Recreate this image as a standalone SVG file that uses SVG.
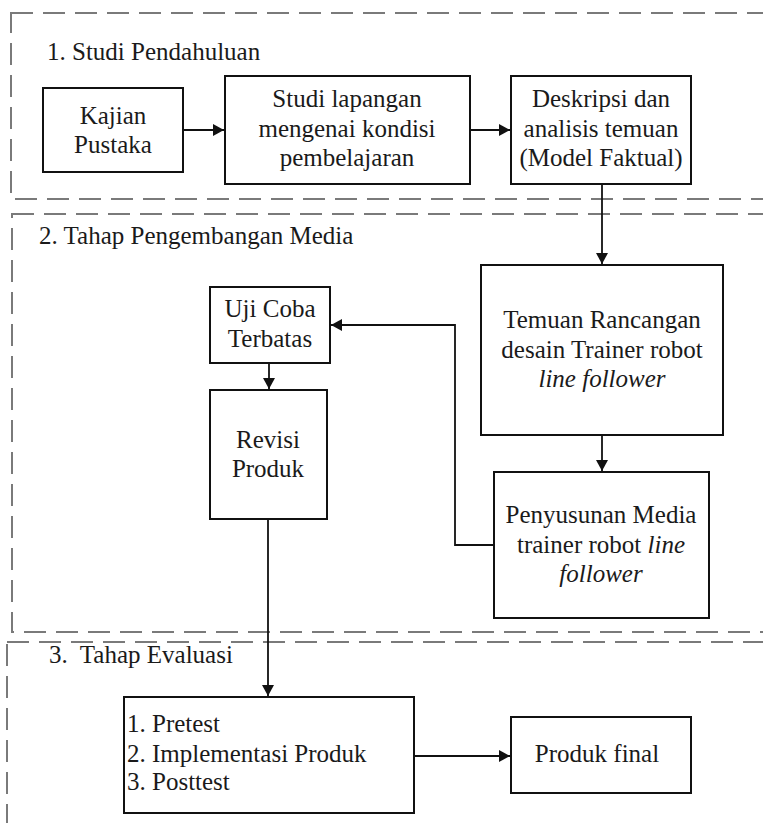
<svg xmlns="http://www.w3.org/2000/svg" width="763" height="823" viewBox="0 0 763 823">
<style>
.sec{fill:none;stroke:#7a7a7a;stroke-width:2;stroke-dasharray:22 10}
.box{fill:#fff;stroke:#111;stroke-width:2}
.t{font-family:'Liberation Serif',Tinos,'Times New Roman',Times,'DejaVu Serif',serif;font-size:25px;fill:#1a1a1a}
.c{text-anchor:middle}
.i{font-style:italic}
.con{fill:none;stroke:#111;stroke-width:1.8}
</style>
<defs>
<marker id="ah" markerUnits="userSpaceOnUse" markerWidth="12" markerHeight="12" refX="11" refY="6" orient="auto">
<path d="M0,0 L11,6 L0,12 z" fill="#111"/>
</marker>
</defs>
<rect width="763" height="823" fill="#fff"/>

<g id="sections">
<rect class="sec" x="11" y="13" width="800" height="186"/>
<rect class="sec" x="12" y="214" width="800" height="418"/>
<rect class="sec" x="7" y="642" width="800" height="300"/>
<text class="t" x="47" y="60" font-family="Liberation Serif, serif">1. Studi Pendahuluan</text>
<text class="t" x="39" y="244" font-family="Liberation Serif, serif">2. Tahap Pengembangan Media</text>
<text class="t" x="49" y="663" font-family="Liberation Serif, serif" xml:space="preserve">3.  Tahap Evaluasi</text>
</g>

<g id="connectors">
<line class="con" x1="183" y1="130" x2="224" y2="130" marker-end="url(#ah)"/>
<line class="con" x1="470" y1="130" x2="510" y2="130" marker-end="url(#ah)"/>
<line class="con" x1="602" y1="184" x2="602" y2="264" marker-end="url(#ah)"/>
<line class="con" x1="602" y1="435" x2="602" y2="471" marker-end="url(#ah)"/>
<polyline class="con" points="494,545 455,545 455,325 331,325" marker-end="url(#ah)"/>
<line class="con" x1="269" y1="363" x2="269" y2="389" marker-end="url(#ah)"/>
<line class="con" x1="268" y1="519" x2="268" y2="696" marker-end="url(#ah)"/>
<line class="con" x1="414" y1="756" x2="510" y2="756" marker-end="url(#ah)"/>
</g>

<g id="kajian">
<rect class="box" x="43" y="88" width="140" height="84"/>
<text class="t c" x="113" y="124">Kajian</text>
<text class="t c" x="113" y="153">Pustaka</text>
</g>

<g id="studi">
<rect class="box" x="225" y="76" width="245" height="108"/>
<text class="t c" x="347" y="107">Studi lapangan</text>
<text class="t c" x="347" y="137">mengenai kondisi</text>
<text class="t c" x="347" y="166">pembelajaran</text>
</g>

<g id="deskripsi">
<rect class="box" x="511" y="76" width="180" height="108"/>
<text class="t c" x="601" y="107">Deskripsi dan</text>
<text class="t c" x="601" y="137">analisis temuan</text>
<text class="t c" x="601" y="166">(Model Faktual)</text>
</g>

<g id="temuan">
<rect class="box" x="481" y="265" width="242" height="170"/>
<text class="t c" x="602" y="328">Temuan Rancangan</text>
<text class="t c" x="602" y="358">desain Trainer robot</text>
<text class="t c i" x="602" y="387">line follower</text>
</g>

<g id="penyusunan">
<rect class="box" x="494" y="472" width="215" height="146"/>
<text class="t c" x="601" y="523">Penyusunan Media</text>
<text class="t c" x="601" y="553">trainer robot <tspan class="i">line</tspan></text>
<text class="t c i" x="601" y="582">follower</text>
</g>

<g id="ujicoba">
<rect class="box" x="210" y="287" width="120" height="76"/>
<text class="t c" x="270" y="317">Uji Coba</text>
<text class="t c" x="270" y="347">Terbatas</text>
</g>

<g id="revisi">
<rect class="box" x="210" y="390" width="117" height="129"/>
<text class="t c" x="268" y="448">Revisi</text>
<text class="t c" x="268" y="477">Produk</text>
</g>

<g id="evaluasi">
<rect class="box" x="124" y="697" width="290" height="116"/>
<text class="t" x="127" y="732">1. Pretest</text>
<text class="t" x="127" y="762">2. Implementasi Produk</text>
<text class="t" x="127" y="790">3. Posttest</text>
</g>

<g id="produkfinal">
<rect class="box" x="511" y="717" width="180" height="76"/>
<text class="t c" x="597" y="762">Produk final</text>
</g>
</svg>
